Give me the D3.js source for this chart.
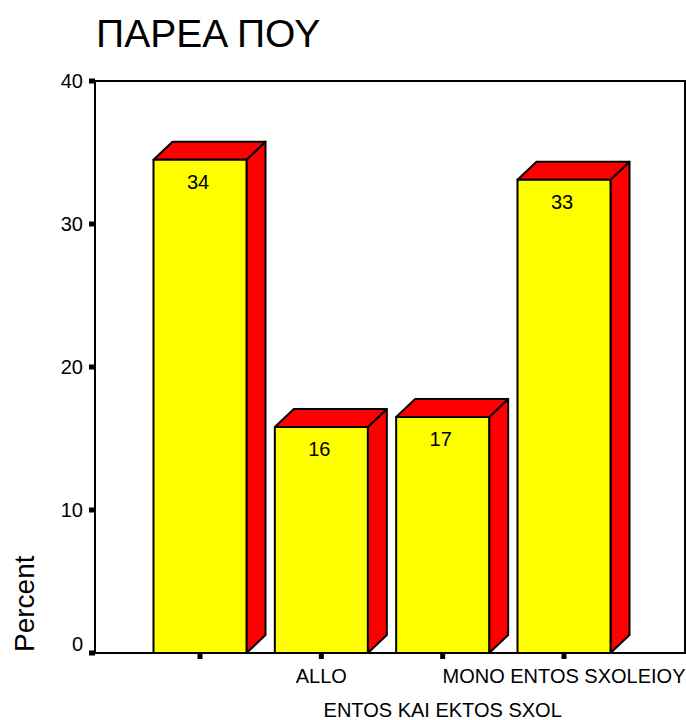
<!DOCTYPE html>
<html><head><meta charset="utf-8">
<script src="https://cdn.jsdelivr.net/npm/d3@7"></script>
<style>body{margin:0;background:#fff}text{font-family:"Liberation Sans",Arial,sans-serif}</style>
</head><body>
<svg id="c" width="686" height="720"></svg>
<script>
const categories = ["", "ALLO", "ENTOS KAI EKTOS SXOL", "MONO ENTOS SXOLEIOY"];
const values = [34.5, 15.8, 16.5, 33.1];
const valueLabels = ["34", "16", "17", "33"];
const yTicks = [0, 10, 20, 30, 40];
const title = "ΠΑΡΕΑ ΠΟΥ";
const yTitle = "Percent";

const svg = d3.select("#c");
const L = 95, R = 685, T = 81, B = 653;
const y = d3.scaleLinear().domain([0, 40]).range([B, T]);
const x = d3.scalePoint().domain(categories).range([200, 564]);
const bw = 93, dx = 19, dy = 18;

svg.append("text").attr("x", 96).attr("y", 47).attr("font-size", 39).text(title);

// frame
svg.append("rect").attr("x", L).attr("y", T).attr("width", R - L).attr("height", B - T)
  .attr("fill", "none").attr("stroke", "#000").attr("stroke-width", 2);

// bars
const g = svg.append("g").attr("stroke", "#000").attr("stroke-width", 2).attr("stroke-linejoin", "round");
categories.forEach((c, i) => {
  const x0 = x(c) - bw / 2, x1 = x(c) + bw / 2, yt = y(values[i]), yb = y(0);
  g.append("path").attr("fill", "#ff0000")
    .attr("d", `M${x1},${yt}L${x1+dx},${yt-dy}L${x1+dx},${yb-dy}L${x1},${yb}Z`);
  g.append("path").attr("fill", "#ff0000")
    .attr("d", `M${x0},${yt}L${x0+dx},${yt-dy}L${x1+dx},${yt-dy}L${x1},${yt}Z`);
  g.append("rect").attr("x", x0).attr("y", yt).attr("width", bw).attr("height", yb - yt).attr("fill", "#ffff00");
  svg.append("text").attr("x", x(c) - 2).attr("y", yt + 29).attr("text-anchor", "middle")
    .attr("font-size", 20).text(valueLabels[i]);
});

// y axis ticks
yTicks.forEach(t => {
  svg.append("rect").attr("x", 89).attr("y", y(t) - 2.5).attr("width", 6).attr("height", 5).attr("fill", "#000");
  svg.append("text").attr("x", 83).attr("y", y(t) + 7 - (t === 0 ? 9 : 0)).attr("text-anchor", "end")
    .attr("font-size", 20).text(t);
});
// x axis ticks & labels
categories.forEach((c, i) => {
  svg.append("rect").attr("x", x(c) - 2.5).attr("y", B).attr("width", 5).attr("height", 6).attr("fill", "#000");
  svg.append("text").attr("x", x(c)).attr("y", i % 2 ? 683 : 717).attr("text-anchor", "middle")
    .attr("font-size", 20).text(c);
});

svg.append("text").attr("transform", "translate(34,652) rotate(-90)").attr("font-size", 28).text(yTitle);
</script>
</body></html>
